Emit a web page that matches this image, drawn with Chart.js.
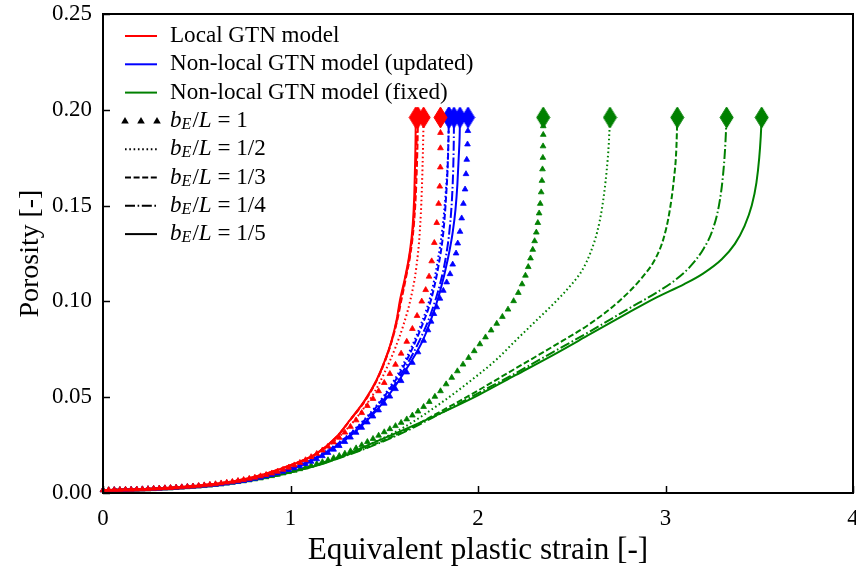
<!DOCTYPE html>
<html><head><meta charset="utf-8">
<script src="https://cdn.jsdelivr.net/npm/chart.js@4/dist/chart.umd.min.js"></script>
<style>html,body{margin:0;padding:0;background:#fff}</style>
</head><body>
<canvas id="c" width="856" height="572"></canvas>
<script>
// ---------- data ----------
const xTicks = [0, 1, 2, 3, 4];
const yTicks = [0, 0.05, 0.10, 0.15, 0.20, 0.25];
const xTitle = "Equivalent plastic strain [-]";
const yTitle = "Porosity [-]";
const models = ["Local GTN model", "Non-local GTN model (updated)", "Non-local GTN model (fixed)"];
const ratios = ["1", "1/2", "1/3", "1/4", "1/5"];

// Local GTN model
const localB1 = [[0,0.0015],[0.03,0.0016],[0.06,0.0016],[0.09,0.0017],[0.12,0.0018],[0.15,0.0018],[0.18,0.0019],[0.21,0.002],[0.24,0.0021],[0.27,0.0023],[0.3,0.0024],[0.33,0.0026],[0.36,0.0027],[0.39,0.0029],[0.42,0.0031],[0.45,0.0033],[0.48,0.0035],[0.51,0.0038],[0.54,0.0041],[0.57,0.0044],[0.6,0.0047],[0.63,0.0051],[0.66,0.0055],[0.69,0.0059],[0.72,0.0064],[0.75,0.0069],[0.78,0.0075],[0.81,0.0081],[0.84,0.0088],[0.87,0.0095],[0.9,0.0103],[0.93,0.0112],[0.96,0.0122],[0.99,0.0133],[1.02,0.0145],[1.05,0.0158],[1.08,0.0172],[1.11,0.0188],[1.14,0.0205],[1.17,0.0223],[1.2,0.0243],[1.23,0.0265],[1.26,0.0289],[1.29,0.0316],[1.32,0.0346],[1.35,0.038],[1.38,0.0418],[1.41,0.0455],[1.44,0.0492],[1.47,0.0532],[1.5,0.0575],[1.53,0.0622],[1.56,0.067],[1.59,0.0728],[1.62,0.079],[1.65,0.0857],[1.675,0.0925],[1.7,0.1],[1.721,0.106],[1.739,0.113],[1.753,0.121],[1.767,0.1306],[1.78,0.141],[1.79,0.151],[1.796,0.16],[1.799,0.17],[1.8,0.18],[1.8,0.188],[1.8,0.196]];
const localB2 = [[0,0.0015],[0.3,0.0024],[0.5,0.0038],[0.7,0.0062],[0.85,0.0094],[1.0,0.0142],[1.14,0.0203],[1.25,0.0285],[1.35,0.039],[1.45,0.053],[1.5,0.0625],[1.56,0.076],[1.6,0.087],[1.64,0.101],[1.67,0.117],[1.69,0.137],[1.7,0.157],[1.706,0.177],[1.71,0.196]];
const localB3 = [[0,0.0015],[0.3,0.0024],[0.5,0.0038],[0.7,0.0062],[0.85,0.0095],[1.0,0.0145],[1.14,0.0206],[1.246,0.0292],[1.317,0.0378],[1.397,0.048],[1.459,0.0585],[1.504,0.0688],[1.54,0.0792],[1.568,0.0895],[1.59,0.1],[1.615,0.112],[1.64,0.125],[1.658,0.14],[1.668,0.155],[1.674,0.17],[1.678,0.185],[1.68,0.196]];
const localB4 = [[0,0.0015],[0.3,0.0024],[0.5,0.0038],[0.7,0.0062],[0.85,0.0095],[1.0,0.0145],[1.14,0.0207],[1.246,0.0293],[1.317,0.038],[1.397,0.0483],[1.459,0.0588],[1.504,0.0691],[1.54,0.0796],[1.567,0.09],[1.587,0.1003],[1.612,0.112],[1.637,0.125],[1.655,0.14],[1.664,0.155],[1.669,0.17],[1.673,0.185],[1.675,0.196]];
const localB5 = [[0,0.0015],[0.3,0.0024],[0.5,0.0038],[0.7,0.0062],[0.85,0.0095],[1.0,0.0145],[1.14,0.0207],[1.246,0.0294],[1.317,0.0381],[1.397,0.0485],[1.459,0.059],[1.504,0.0694],[1.54,0.0799],[1.566,0.0903],[1.584,0.1007],[1.61,0.112],[1.635,0.125],[1.652,0.14],[1.66,0.155],[1.664,0.17],[1.667,0.185],[1.668,0.196]];

// Non-local GTN model (updated)
const updatedB1 = [[0,0.0015],[0.03,0.0015],[0.06,0.0016],[0.09,0.0016],[0.12,0.0017],[0.15,0.0018],[0.18,0.0019],[0.21,0.002],[0.24,0.0021],[0.27,0.0022],[0.3,0.0023],[0.33,0.0025],[0.36,0.0026],[0.39,0.0028],[0.42,0.003],[0.45,0.0032],[0.48,0.0034],[0.51,0.0036],[0.54,0.0039],[0.57,0.0041],[0.6,0.0044],[0.63,0.0047],[0.66,0.0051],[0.69,0.0055],[0.72,0.0059],[0.75,0.0064],[0.78,0.0069],[0.81,0.0075],[0.84,0.0081],[0.87,0.0088],[0.9,0.0095],[0.93,0.0103],[0.96,0.0112],[0.99,0.0121],[1.02,0.013],[1.05,0.014],[1.08,0.0152],[1.11,0.0164],[1.14,0.0177],[1.17,0.0193],[1.2,0.021],[1.23,0.0227],[1.26,0.0246],[1.29,0.0267],[1.32,0.029],[1.35,0.0315],[1.38,0.0341],[1.41,0.0369],[1.44,0.04],[1.47,0.0432],[1.5,0.0467],[1.53,0.0504],[1.56,0.0543],[1.59,0.0585],[1.62,0.063],[1.65,0.068],[1.68,0.0735],[1.71,0.0795],[1.733,0.085],[1.75,0.0895],[1.765,0.0935],[1.78,0.097],[1.797,0.1015],[1.815,0.1056],[1.833,0.11],[1.851,0.1143],[1.865,0.1193],[1.883,0.1251],[1.892,0.1303],[1.904,0.1364],[1.913,0.1434],[1.922,0.151],[1.931,0.1585],[1.936,0.1665],[1.94,0.174],[1.944,0.182],[1.946,0.189],[1.947,0.196]];
const updatedB2 = [[0,0.0015],[0.3,0.0023],[0.5,0.0036],[0.7,0.0059],[0.9,0.0099],[1.0,0.013],[1.1,0.0171],[1.2,0.0225],[1.3,0.0297],[1.4,0.039],[1.5,0.051],[1.6,0.067],[1.7,0.089],[1.75,0.104],[1.785,0.121],[1.81,0.138],[1.828,0.157],[1.84,0.177],[1.845,0.196]];
const updatedB3 = [[0,0.0015],[0.3,0.0023],[0.5,0.0036],[0.7,0.0058],[0.9,0.0098],[1.0,0.0128],[1.1,0.0168],[1.2,0.0222],[1.3,0.0293],[1.4,0.0385],[1.5,0.0503],[1.6,0.0655],[1.7,0.087],[1.75,0.101],[1.79,0.119],[1.815,0.136],[1.83,0.155],[1.84,0.175],[1.845,0.196]];
const updatedB4 = [[0,0.0015],[0.3,0.0023],[0.5,0.0035],[0.7,0.0057],[0.9,0.0097],[1.0,0.0126],[1.1,0.0165],[1.2,0.0218],[1.3,0.0287],[1.4,0.0376],[1.5,0.049],[1.6,0.0635],[1.7,0.082],[1.75,0.094],[1.8,0.11],[1.83,0.124],[1.85,0.139],[1.862,0.155],[1.868,0.17],[1.871,0.185],[1.872,0.196]];
const updatedB5 = [[0,0.0015],[0.3,0.0023],[0.5,0.0035],[0.7,0.0057],[0.9,0.0096],[1.0,0.0125],[1.1,0.0163],[1.2,0.0215],[1.3,0.0283],[1.4,0.037],[1.5,0.048],[1.6,0.062],[1.7,0.0785],[1.744,0.089],[1.797,0.105],[1.84,0.1225],[1.865,0.136],[1.88,0.148],[1.89,0.161],[1.897,0.175],[1.902,0.186],[1.904,0.196]];

// Non-local GTN model (fixed)
const fixedB1 = [[0,0.0015],[0.03,0.0015],[0.06,0.0016],[0.09,0.0016],[0.12,0.0017],[0.15,0.0017],[0.18,0.0018],[0.21,0.0019],[0.24,0.002],[0.27,0.0021],[0.3,0.0023],[0.33,0.0024],[0.36,0.0025],[0.39,0.0027],[0.42,0.0029],[0.45,0.0031],[0.48,0.0033],[0.51,0.0035],[0.54,0.0037],[0.57,0.004],[0.6,0.0043],[0.63,0.0046],[0.66,0.005],[0.69,0.0054],[0.72,0.0058],[0.75,0.0062],[0.78,0.0067],[0.81,0.0072],[0.84,0.0077],[0.87,0.0083],[0.9,0.0089],[0.93,0.0096],[0.96,0.0103],[0.99,0.011],[1.02,0.0117],[1.05,0.0125],[1.08,0.0134],[1.11,0.0143],[1.14,0.0152],[1.17,0.0162],[1.2,0.0172],[1.23,0.0183],[1.26,0.0194],[1.29,0.0206],[1.32,0.0219],[1.35,0.0234],[1.38,0.025],[1.41,0.0267],[1.44,0.0283],[1.47,0.03],[1.5,0.0318],[1.53,0.0334],[1.56,0.035],[1.59,0.0367],[1.62,0.0385],[1.65,0.0405],[1.68,0.0426],[1.71,0.045],[1.74,0.0476],[1.77,0.0503],[1.8,0.0532],[1.83,0.0568],[1.86,0.0602],[1.89,0.0636],[1.92,0.0671],[1.95,0.0706],[1.98,0.0741],[2.01,0.0777],[2.04,0.0813],[2.07,0.0849],[2.1,0.0884],[2.13,0.092],[2.16,0.0958],[2.19,0.1002],[2.215,0.1045],[2.235,0.109],[2.253,0.1135],[2.268,0.118],[2.28,0.1225],[2.292,0.127],[2.302,0.1315],[2.311,0.136],[2.319,0.141],[2.326,0.146],[2.332,0.151],[2.337,0.157],[2.341,0.163],[2.344,0.169],[2.346,0.175],[2.347,0.181],[2.348,0.187],[2.348,0.1915],[2.348,0.196]];
const fixedB2 = [[0,0.0015],[0.3,0.0023],[0.5,0.0034],[0.7,0.0054],[0.9,0.0087],[1.0,0.011],[1.2,0.0168],[1.4,0.0245],[1.6,0.034],[1.8,0.0468],[2.0,0.0616],[2.1,0.0698],[2.2,0.0795],[2.3,0.089],[2.4,0.0985],[2.5,0.109],[2.56,0.117],[2.6,0.1255],[2.635,0.136],[2.662,0.149],[2.686,0.168],[2.698,0.183],[2.704,0.196]];
const fixedB3 = [[0,0.0015],[0.3,0.0023],[0.5,0.0034],[0.7,0.0054],[0.9,0.0086],[1.0,0.0109],[1.2,0.0165],[1.4,0.0235],[1.6,0.032],[1.8,0.0425],[2.0,0.0535],[2.2,0.065],[2.4,0.0765],[2.6,0.0885],[2.757,0.1005],[2.88,0.113],[2.95,0.123],[2.99,0.133],[3.02,0.146],[3.045,0.164],[3.058,0.18],[3.063,0.196]];
const fixedB4 = [[0,0.0015],[0.3,0.0023],[0.5,0.0034],[0.7,0.0054],[0.9,0.0086],[1.0,0.0108],[1.2,0.0163],[1.4,0.0232],[1.6,0.0315],[1.8,0.0415],[2.0,0.052],[2.2,0.0625],[2.4,0.0735],[2.6,0.0845],[2.8,0.096],[2.95,0.1045],[3.05,0.111],[3.13,0.118],[3.2,0.127],[3.25,0.137],[3.285,0.15],[3.306,0.165],[3.318,0.18],[3.326,0.196]];
const fixedB5 = [[0,0.0015],[0.3,0.0023],[0.5,0.0034],[0.7,0.0054],[0.9,0.0086],[1.0,0.0108],[1.2,0.0162],[1.477,0.0277],[1.6,0.0328],[1.8,0.0416],[2.0,0.051],[2.2,0.0615],[2.4,0.072],[2.6,0.083],[2.8,0.094],[2.95,0.102],[3.1,0.109],[3.2,0.1145],[3.3,0.122],[3.37,0.13],[3.42,0.139],[3.46,0.15],[3.485,0.162],[3.5,0.175],[3.508,0.186],[3.513,0.196]];

// ---------- styling ----------
const colors = ['#ff0000', '#0000ff', '#008000'];
const dashes = [[], [1.6, 2.7], [6, 2.6], [10, 2.6, 1.6, 2.6], []];
const series = [
  [localB1, localB2, localB3, localB4, localB5],
  [updatedB1, updatedB2, updatedB3, updatedB4, updatedB5],
  [fixedB1, fixedB2, fixedB3, fixedB4, fixedB5]
];
const FONT = "'Liberation Serif', 'Times New Roman', serif";

function fitSize(text, target, italic) {
  const c = document.createElement('canvas').getContext('2d');
  c.font = (italic ? 'italic ' : '') + '100px ' + FONT;
  return Math.round(100 * target / c.measureText(text).width * 10) / 10;
}
const xTitleSize = fitSize(xTitle, 341);
const yTitleSize = fitSize(yTitle, 128);
const tickSize = fitSize('0.25', 40);
const legendSize = fitSize(models[1], 303);

function diamond(color) {
  const c = document.createElement('canvas');
  c.width = 15; c.height = 23;
  const g = c.getContext('2d');
  g.fillStyle = color; g.strokeStyle = color; g.lineWidth = 1;
  g.beginPath();
  g.moveTo(7.5, 1); g.lineTo(14, 11.5); g.lineTo(7.5, 22); g.lineTo(1, 11.5); g.closePath();
  g.fill(); g.stroke();
  return c;
}
const diamonds = colors.map(diamond);

const datasets = [];
series.forEach((group, m) => {
  group.forEach((pts, b) => {
    const last = pts.length - 1;
    const isTri = b === 0;
    datasets.push({
      label: models[m] + ' ' + ratios[b],
      data: pts.map(p => ({x: p[0], y: p[1]})),
      showLine: !isTri,
      borderColor: colors[m],
      backgroundColor: colors[m],
      borderWidth: 2,
      borderDash: dashes[b],
      cubicInterpolationMode: 'monotone',
      pointStyle: ctx => ctx.dataIndex === last ? diamonds[m] : 'triangle',
      pointRadius: ctx => ctx.dataIndex === last ? 8 : (isTri ? 3.3 : 0),
      pointBorderWidth: ctx => ctx.dataIndex === last ? 0 : 0.8,
      pointBackgroundColor: colors[m],
      pointBorderColor: colors[m],
      clip: 12
    });
  });
});

const overlay = {
  id: 'overlay',
  afterDraw(chart) {
    const {ctx, chartArea: a, scales: {x, y}} = chart;
    ctx.save();
    ctx.strokeStyle = '#000';
    ctx.setLineDash([]);
    ctx.lineWidth = 1.5;
    const seg = (x1, y1, x2, y2) => { ctx.beginPath(); ctx.moveTo(x1, y1); ctx.lineTo(x2, y2); ctx.stroke(); };
    xTicks.forEach(v => { const p = Math.round(x.getPixelForValue(v)) + 0.5; seg(p, a.bottom, p, a.bottom - 7); });
    yTicks.forEach(v => { const p = Math.round(y.getPixelForValue(v)) + 0.5; seg(a.left, p, a.left + 7, p); });
    ctx.lineWidth = 2;
    ctx.strokeRect(a.left, a.top, a.right - a.left, a.bottom - a.top);

    // legend
    const lx0 = 125, lx1 = 157, tx = 170, y0 = 36, dy = 28.3;
    ctx.textBaseline = 'middle';
    models.forEach((txt, i) => {
      const yy = y0 + i * dy;
      ctx.strokeStyle = colors[i]; ctx.lineWidth = 2; ctx.setLineDash([]);
      seg(lx0, yy, lx1, yy);
      ctx.fillStyle = '#000';
      ctx.font = legendSize + 'px ' + FONT;
      ctx.fillText(txt, tx, yy);
    });
    ratios.forEach((r, j) => {
      const yy = y0 + (3 + j) * dy;
      ctx.strokeStyle = '#000'; ctx.fillStyle = '#000'; ctx.lineWidth = 2;
      if (j === 0) {
        [lx0, lx0 + 16, lx0 + 32].forEach(px => {
          ctx.beginPath(); ctx.moveTo(px, yy - 4); ctx.lineTo(px + 3.8, yy + 2.6); ctx.lineTo(px - 3.8, yy + 2.6); ctx.closePath(); ctx.fill();
        });
      } else {
        ctx.setLineDash(dashes[j]);
        seg(lx0, yy, lx1, yy);
        ctx.setLineDash([]);
      }
      let px = tx;
      const put = (s, size, italic, dyy) => {
        ctx.font = (italic ? 'italic ' : '') + size + 'px ' + FONT;
        ctx.fillText(s, px, yy + (dyy || 0));
        px += ctx.measureText(s).width;
      };
      put('b', legendSize, true);
      put('E', legendSize * 0.7, true, 4);
      px += 1;
      put('/', legendSize, false);
      put('L', legendSize, true);
      put(' = ' + r, legendSize, false);
    });
    ctx.restore();
  }
};

new Chart(document.getElementById('c'), {
  type: 'scatter',
  data: {datasets},
  options: {
    responsive: false,
    animation: false,
    devicePixelRatio: 1,
    layout: {autoPadding: false, padding: {top: 14, right: 3, left: 0, bottom: 0}},
    plugins: {legend: {display: false}, tooltip: {enabled: false}},
    scales: {
      x: {
        type: 'linear', min: 0, max: 4,
        afterBuildTicks: s => { s.ticks = xTicks.map(v => ({value: v})); },
        afterFit: s => { s.height = 79; s.paddingLeft = 0; s.paddingRight = 0; },
        grid: {display: false, drawTicks: false},
        border: {display: false},
        ticks: {color: '#000', padding: 12, maxRotation: 0, font: {family: FONT, size: tickSize}, callback: v => String(v)},
        title: {display: true, text: xTitle, color: '#000', font: {family: FONT, size: xTitleSize}, padding: {top: 0, bottom: 2}}
      },
      y: {
        type: 'linear', min: 0, max: 0.25,
        afterBuildTicks: s => { s.ticks = yTicks.map(v => ({value: v})); },
        afterFit: s => { s.width = 103; s.paddingTop = 0; s.paddingBottom = 0; },
        grid: {display: false, drawTicks: false},
        border: {display: false},
        ticks: {color: '#000', padding: 11, font: {family: FONT, size: tickSize}, callback: v => Number(v).toFixed(2)},
        title: {display: true, text: yTitle, color: '#000', font: {family: FONT, size: yTitleSize}, padding: {top: 14, bottom: 0}}
      }
    }
  },
  plugins: [overlay]
});
</script>
</body></html>
